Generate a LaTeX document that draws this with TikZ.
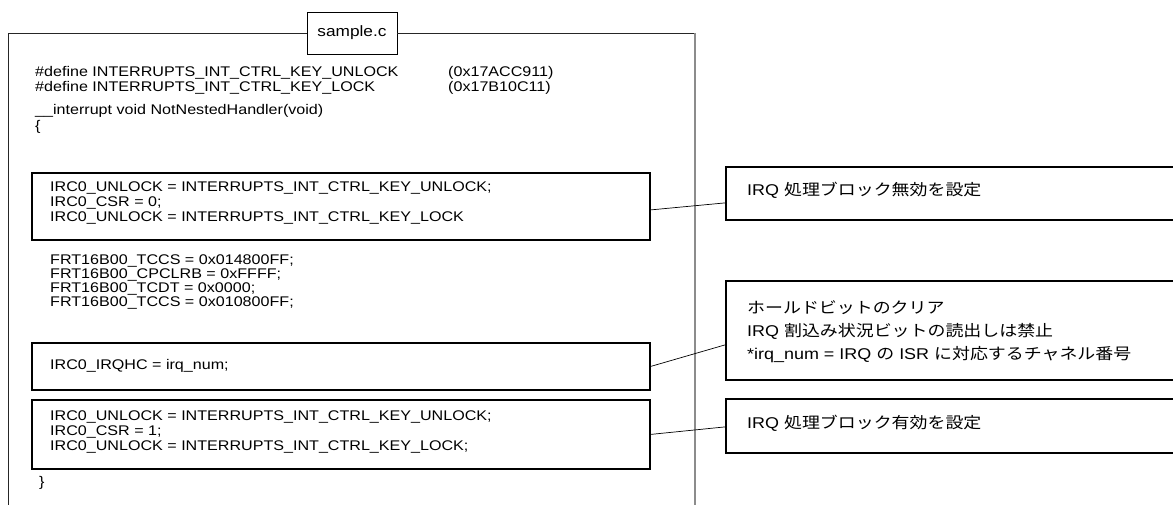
\documentclass[tikz,border=0pt]{standalone}
\usepackage{fontspec}
\usepackage{graphicx}
\setmainfont{Liberation Sans}
\newfontfamily\jp{Noto Sans CJK JP}
% all text is set slightly wide
\newcommand\wide[1]{\scalebox{1.15}[1]{#1}}
\newcommand\lines[1]{\wide{\begin{tabular}[t]{@{}l@{}}#1\end{tabular}}}

\begin{document}
\begin{tikzpicture}[x=1pt,y=-1pt,
  code/.style={font=\fontsize{14pt}{15pt}\selectfont, inner sep=0pt, anchor=base west},
  note/.style={font=\fontsize{15.6pt}{23pt}\selectfont, inner sep=0pt, anchor=base west},
  codebox/.style={draw, line width=1.8pt, inner sep=0pt, anchor=north west, minimum width=618pt},
  notebox/.style={draw, line width=1.8pt, inner sep=0pt, anchor=north west, minimum width=470pt},
  tabbox/.style={draw, line width=0.8pt, fill=white, inner sep=0pt, minimum width=90pt, minimum height=42pt,
                 font=\fontsize{15pt}{17pt}\selectfont},
  frameline/.style={line width=0.8pt, black!85},
  frameside/.style={line width=1.6pt, black!45},
  link/.style={line width=0.7pt},
]
\useasboundingbox (0,0) rectangle (1173,505);
\clip (0,0) rectangle (1173,505);

% file frame with its title tab
\node[tabbox] (tab) at (352,33) {\wide{sample.c}};
\draw[frameline] (8,506) |- (tab.west);
\draw[frameline] (tab.east) -- (695,33);
\draw[frameside] (695,33) -- (695,506);

% source text outside the highlighted blocks
\node[code] (defs) at (35,77) {\fontsize{14pt}{13.5pt}\selectfont\lines{\#define INTERRUPTS\_INT\_CTRL\_KEY\_UNLOCK\\ \#define INTERRUPTS\_INT\_CTRL\_KEY\_LOCK}};
\node[code] (vals) at (448,77) {\fontsize{14pt}{13.5pt}\selectfont\lines{(0x17ACC911)\\ (0x17B10C11)}};
\node[code] (head) at (35,115) {\fontsize{14pt}{16pt}\selectfont\lines{\_\_interrupt void NotNestedHandler(void)\\ \{}};
\node[code] (frt) at (50,265) {\fontsize{14pt}{13pt}\selectfont\lines{FRT16B00\_TCCS = 0x014800FF;\\ FRT16B00\_CPCLRB = 0xFFFF;\\ FRT16B00\_TCDT = 0x0000;\\ FRT16B00\_TCCS = 0x010800FF;}};
\node[code] (close) at (39,486) {\wide{\}}};

% highlighted blocks
\node[codebox, minimum height=67pt] (box1) at (31,172) {};
\node[code] (box1txt) at (50,192) {\lines{IRC0\_UNLOCK = INTERRUPTS\_INT\_CTRL\_KEY\_UNLOCK;\\ IRC0\_CSR = 0;\\ IRC0\_UNLOCK = INTERRUPTS\_INT\_CTRL\_KEY\_LOCK}};

\node[codebox, minimum height=47pt] (box2) at (31,342) {};
\node[code] (box2txt) at (50,369) {\wide{IRC0\_IRQHC = irq\_num;}};

\node[codebox, minimum height=69pt] (box3) at (31,399) {};
\node[code] (box3txt) at (50,420) {\lines{IRC0\_UNLOCK = INTERRUPTS\_INT\_CTRL\_KEY\_UNLOCK;\\ IRC0\_CSR = 1;\\ IRC0\_UNLOCK = INTERRUPTS\_INT\_CTRL\_KEY\_LOCK;}};

% notes
\node[notebox, minimum height=53pt] (c1) at (725,166) {};
\node[note] (c1txt) at (747,196) {\wide{IRQ {\jp 処理ブロック無効を設定}}};

\node[notebox, minimum height=99pt] (c2) at (725,280) {};
\node[note] (c2txt) at (747,313) {\lines{{\jp ホールドビットのクリア}\\ IRQ {\jp 割込み状況ビットの読出しは禁止}\\ \relax *irq\_num = IRQ {\jp の} ISR {\jp に対応するチャネル番号}}};

\node[notebox, minimum height=54pt] (c3) at (725,398) {};
\node[note] (c3txt) at (747,428) {\wide{IRQ {\jp 処理ブロック有効を設定}}};

% leaders from blocks to notes
\draw[link] ([yshift=-3.5pt]box1.east) -- ([yshift=-9.5pt]c1.west);
\draw[link] (box2.east) -- ([yshift=-14.5pt]c2.west);
\draw[link] (box3.east) -- ([yshift=-1pt]c3.west);
\end{tikzpicture}
\end{document}
